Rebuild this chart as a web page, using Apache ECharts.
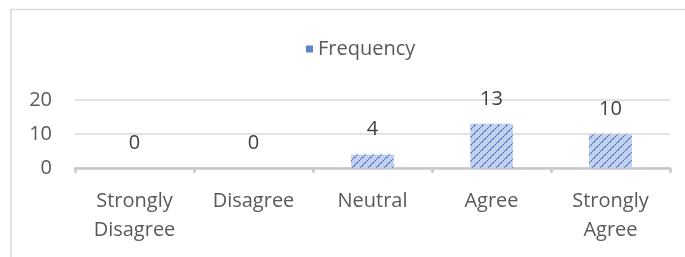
<!DOCTYPE html>
<html>
<head>
<meta charset="utf-8">
<script src="https://cdn.jsdelivr.net/npm/echarts@6/dist/echarts.min.js"></script>
<style>
  html, body { margin: 0; padding: 0; background: #fff; }
  #chart { width: 685px; height: 257px; }
</style>
</head>
<body>
<div id="chart"></div>
<script>
const categories = ["Strongly\nDisagree", "Disagree", "Neutral", "Agree", "Strongly\nAgree"];
const frequency = [0, 0, 4, 13, 10];
const yTicks = [0, 10, 20];

// hatched fill like the Excel pattern
function makeHatch() {
  const c = document.createElement("canvas");
  c.width = 8;
  c.height = 8;
  const ctx = c.getContext("2d");
  ctx.fillStyle = "#c3d2ee";
  ctx.fillRect(0, 0, 8, 8);
  ctx.strokeStyle = "#4a74c4";
  ctx.lineWidth = 1.4;
  ctx.setLineDash([2.5, 1.2]);
  ctx.beginPath();
  ctx.moveTo(-1, 9);
  ctx.lineTo(9, -1);
  ctx.moveTo(-5, 5);
  ctx.lineTo(5, -5);
  ctx.moveTo(3, 13);
  ctx.lineTo(13, 3);
  ctx.stroke();
  return c;
}

const chart = echarts.init(document.getElementById("chart"));
const font = "Open Sans";

chart.setOption({
  animation: false,
  textStyle: { fontFamily: font },
  graphic: [
    {
      type: "rect",
      shape: { x: 11, y: 9.5, width: 700, height: 300 },
      style: { fill: null, stroke: "#d9d9d9", lineWidth: 1.5 },
      silent: true
    }
  ],
  legend: {
    data: ["Frequency"],
    left: 301,
    top: 34,
    itemWidth: 7,
    itemHeight: 7,
    itemGap: 12,
    icon: "rect",
    itemStyle: { color: "#5f84cc" },
    textStyle: { color: "#595959", fontSize: 20, fontFamily: font }
  },
  grid: { left: 75, right: 15, top: 100, bottom: 89 },
  xAxis: {
    type: "category",
    data: categories,
    axisLine: { lineStyle: { color: "#c8c8c8", width: 2.5 } },
    axisTick: { show: true, length: 5, lineStyle: { color: "#c8c8c8", width: 2.5 } },
    axisLabel: { color: "#595959", fontSize: 20, margin: 19, lineHeight: 29, interval: 0 }
  },
  yAxis: {
    type: "value",
    min: yTicks[0],
    max: yTicks[yTicks.length - 1],
    interval: 10,
    axisLine: { show: false },
    axisTick: { show: false },
    axisLabel: { color: "#595959", fontSize: 20, margin: 23 },
    splitLine: { lineStyle: { color: "#d9d9d9", width: 1.5 } }
  },
  series: [
    {
      name: "Frequency",
      type: "bar",
      data: frequency,
      barWidth: "36%",
      itemStyle: {
        color: { image: makeHatch(), repeat: "repeat" }
      },
      label: {
        show: true,
        position: "top",
        distance: 15,
        color: "#404040",
        fontSize: 20,
        fontFamily: font
      }
    }
  ]
});
</script>
</body>
</html>
